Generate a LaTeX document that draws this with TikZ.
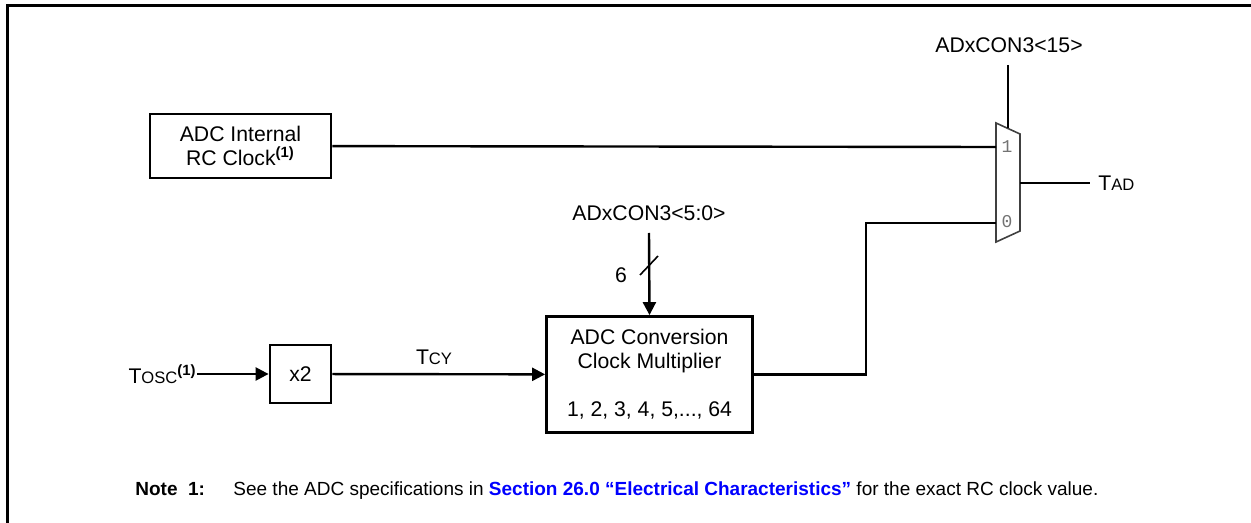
\documentclass[tikz,border=0pt]{standalone}
\usepackage{fontspec}
\setmainfont{Liberation Sans}
\newfontfamily\muxfont{Liberation Mono}
\usepackage{tikz}
\usetikzlibrary{positioning,arrows.meta}
\usepackage{xcolor}
\newcommand{\lowcaps}[1]{{\fontsize{8.3}{9}\selectfont #1}}
\newcommand{\noteref}{\textsuperscript{\bfseries(1)}}

\begin{document}
\begin{tikzpicture}[x=0.5pt, y=-0.5pt, >={Triangle[length=6.5pt,width=6.5pt]},
  wire/.style={line width=1.2pt},
  box/.style={draw, line width=1.4pt, align=center, inner sep=0pt, font=\fontsize{10.6}{12}\selectfont},
  lbl/.style={inner sep=0pt, font=\fontsize{10.6}{12}\selectfont},
  muxlbl/.style={inner sep=0pt, text=black!55, font=\muxfont\fontsize{9}{10}\selectfont},
  frame/.style={line width=1.5pt}]
\useasboundingbox (0,0) rectangle (1251,523);
\draw[frame] (7,523) -- (7,6) -- (1251,6);

% mux
\draw[line width=0.8pt, black!75] (996,123) -- (1020,134) -- (1020,231) -- (996,242) -- cycle;
\coordinate (mux1) at (996,147);
\coordinate (mux0) at (996,223);
\coordinate (muxout) at (1020,183);
\coordinate (muxsel) at (1008,128.5);
\node[muxlbl] (one) at (1007,147) {1};
\node[muxlbl] (zero) at (1007,222) {0};

\node[box, minimum width=90.5pt, minimum height=32pt] (rc) at (240.5,146) {ADC Internal\\ RC Clock\noteref};
\node[box, minimum width=30.5pt, minimum height=29pt] (xtwo) at (300.5,374) {x2};
\node[box, minimum width=103pt, minimum height=58pt] (mult) at (649.5,374.5)
  {ADC Conversion\\ Clock Multiplier\\[12pt] 1, 2, 3, 4, 5,..., 64};

\node[lbl, anchor=east] (tosc) at (197,374) {T\lowcaps{OSC}\noteref};
\node[lbl] (tcy) at (434,357) {T\lowcaps{CY}};
\node[lbl, anchor=west] (tad) at (1098,183) {T\lowcaps{AD}};
\node[lbl] (selmul) at (649,213) {ADxCON3<5:0>};
\node[lbl] (selmux) at (1009,45) {ADxCON3<15>};
\node[lbl] (width) at (621,275) {6};

\draw[wire, ->] (tosc) -- (xtwo);
\draw[wire, ->] (xtwo) -- (mult);
\draw[wire, ->] (649,233) -- (mult.north);
\draw[line width=0.8pt] (640,275) -- (658,256);
\draw[wire] (rc) -- (mux1);
\draw[wire] (mult.east) -- (866,374.5) |- (mux0);
\draw[wire] (muxout) -- (tad.west -| 1090,0);
\draw[wire] (1008,65) -- (muxsel);

\node[inner sep=0pt, anchor=base west, font=\fontsize{9.5}{11}\selectfont\bfseries] (note) at (135,495) {Note\hspace{0.55em}1:};
\node[inner sep=0pt, anchor=base west, font=\fontsize{9.5}{11}\selectfont] (notetext) at (233,495)
  {See the ADC specifications in \textcolor{blue}{\bfseries Section 26.0 “Electrical Characteristics”} for the exact RC clock value.};
\end{tikzpicture}
\end{document}
